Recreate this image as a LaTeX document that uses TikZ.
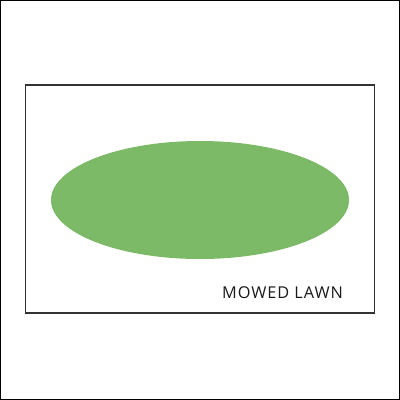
\documentclass[tikz,border=0pt]{standalone}
\usepackage{fontspec}
\setmainfont{Open Sans}[LetterSpace=6]
\usetikzlibrary{shapes.geometric}
\begin{document}
\begin{tikzpicture}[x=1pt,y=-1pt,
    frame/.style ={draw=black!80, line width=1.2pt},
    lawn/.style ={fill=lawngreen, draw=none},
    label/.style ={font=\fontsize{16.3}{19}\selectfont, text=black!90, inner sep=0pt}]
   \definecolor{lawngreen}{RGB}{124,186,104}
   \useasboundingbox (0,0) rectangle (400,400);
   \draw[line width=1pt] (0.5,0.5) rectangle (399.5,399.5);
   \node[frame, minimum width=349pt, minimum height=228pt, inner sep=0pt] (plot) at (200,199) {};
   \node[lawn, ellipse, minimum width=298pt, minimum height=118pt, inner sep=0pt] (lawn) at (200,200) {};
   \node[label] (name) at (282.5,292.5) {MOWED LAWN};
\end{tikzpicture}
\end{document}
